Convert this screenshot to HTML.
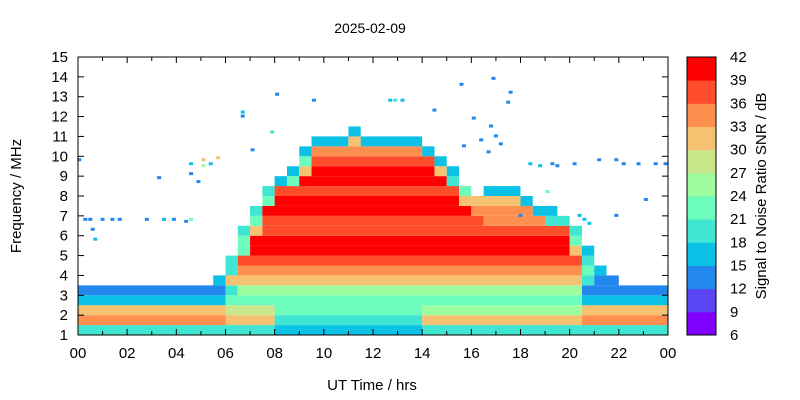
<!DOCTYPE html>
<html><head><meta charset="utf-8"><style>
body{margin:0;background:#fff;font-family:"Liberation Sans",sans-serif}
svg{display:block}
text{font-family:"Liberation Sans",sans-serif;fill:#000}
</style></head><body>
<svg id="chart" width="800" height="400" viewBox="0 0 800 400">
<rect width="800" height="400" fill="#fff"/>
<text x="370" y="33" font-size="14" text-anchor="middle">2025-02-09</text>
<text x="372" y="390" font-size="15" text-anchor="middle">UT Time / hrs</text>
<text transform="translate(21,196) rotate(-90)" font-size="15" text-anchor="middle">Frequency / MHz</text>
<text transform="translate(766,196) rotate(-90)" font-size="15" text-anchor="middle">Signal to Noise Ratio SNR / dB</text>
<g id="cells"></g>
<g id="dots"></g>
<g id="axes"></g>
<g id="cbar"></g>
</svg>
<script>
// time bins: half-hour columns 0..47; frequency rows: 0.5 MHz from 1 MHz
// runs: [startCol, endCol, bandLevel] ; level 1 = 6-9 dB ... 12 = 39-42 dB
const rowRuns = [
 [[0,11,5],[12,15,5],[16,27,4],[28,40,5],[41,47,5]],
 [[0,11,10],[12,15,9],[16,27,5],[28,40,9],[41,47,10]],
 [[0,11,9],[12,15,8],[16,27,6],[28,40,7],[41,47,9]],
 [[0,11,4],[12,40,6],[41,47,4]],
 [[0,11,3],[12,12,5],[13,40,7],[41,47,3]],
 [[11,11,4],[12,40,9],[41,41,5],[42,43,3]],
 [[12,12,5],[13,40,10],[41,41,6],[42,42,4]],
 [[12,12,5],[13,40,11],[41,41,5]],
 [[13,13,6],[14,39,12],[40,40,9],[41,41,4]],
 [[13,13,6],[14,39,12],[40,40,6]],
 [[13,13,5],[14,14,9],[15,39,11],[40,40,5]],
 [[14,14,6],[15,32,11],[33,37,10],[38,39,5]],
 [[14,14,5],[15,31,12],[32,36,10],[37,38,4]],
 [[15,15,6],[16,30,12],[31,35,9],[36,36,4]],
 [[15,15,5],[16,30,11],[31,31,6],[33,35,4]],
 [[16,16,4],[17,17,6],[18,29,12],[30,30,5]],
 [[17,17,4],[18,18,9],[19,28,12],[29,29,9],[30,30,4]],
 [[18,18,6],[19,28,11],[29,29,4]],
 [[18,18,4],[19,27,10],[28,28,4]],
 [[19,21,4],[22,22,9],[23,27,4]],
 [[22,22,4]]
];
const dotPoints = [[0.3,6.8,13],[0.5,6.8,13],[0.6,6.3,13],[0.7,5.8,16],[1,6.8,13],[1.4,6.8,13],[1.7,6.8,13],[2.8,6.8,13],[3.5,6.8,16],[3.9,6.8,13],[4.4,6.7,13],[4.6,6.8,21],[3.3,8.9,13],[4.6,9.6,16],[4.6,9.1,13],[4.9,8.7,13],[5.1,9.8,30],[5.1,9.5,24],[5.7,9.9,31],[5.4,9.6,16],[6.7,12.2,16],[6.7,12,13],[7.1,10.3,13],[7.9,11.2,18],[8.1,13.1,13],[9.6,12.8,13],[12.7,12.8,16],[12.9,12.8,19],[13.2,12.8,16],[14.5,12.3,13],[15.6,13.6,13],[16.9,13.9,13],[17.6,13.2,13],[17.5,12.7,13],[16.1,11.9,13],[16.8,11.5,13],[17,11,13],[16.4,10.8,13],[16.7,10.2,13],[15.7,10.5,13],[17.2,10.6,13],[18.4,9.6,16],[18.8,9.5,16],[19.5,9.5,13],[19.3,9.6,13],[20.2,9.6,13],[21.2,9.8,13],[21.9,9.8,13],[22.2,9.6,13],[22.8,9.6,13],[23.5,9.6,13],[23.9,9.6,13],[19.1,8.2,21],[23.1,7.8,13],[18,7,13],[20.4,7,16],[20.6,6.8,16],[20.8,6.6,16],[21.9,7,13],[0.05,9.8,13]];
const xTickLabels = ["00","02","04","06","08","10","12","14","16","18","20","22","00"];
const yTickLabels = ["1","2","3","4","5","6","7","8","9","10","11","12","13","14","15"];
const cbarTickLabels = ["6","9","12","15","18","21","24","27","30","33","36","39","42"];
const bandColors = ["#7f00ff","#5a46f5","#2388ee","#0cc1e6","#3fe6d2","#6cfcbc","#9dfc9e","#c8e68a","#f4c270","#ff8f4f","#ff4c2a","#ff0000"];

const X0=78,X1=668,Y0=335,Y1=57;
const xs=h=>X0+(X1-X0)*h/24;
const ys=f=>Y0-(Y0-Y1)*(f-1)/14;
const band=s=>Math.max(0,Math.min(11,Math.floor((s-6)/3)));
const NS="http://www.w3.org/2000/svg";
function mk(tag,attrs,parent){const e=document.createElementNS(NS,tag);for(const k in attrs)e.setAttribute(k,attrs[k]);parent.appendChild(e);return e;}
const cells=document.getElementById('cells');
rowRuns.forEach((runs,ri)=>{
 runs.forEach(r=>{
  const f0=1+ri*0.5,f1=f0+0.5;
  const e=mk('rect',{x:xs(r[0]/2),y:ys(f1),width:xs((r[1]+1)/2)-xs(r[0]/2),height:ys(f0)-ys(f1),fill:bandColors[r[2]-1]},cells);
  
  
 });
});
const dots=document.getElementById('dots');
dotPoints.forEach(p=>{
 const e=mk('rect',{x:xs(p[0])-2,y:ys(p[1])-2,width:4,height:3,fill:bandColors[band(p[2])]},dots);
 
 
});
const ax=document.getElementById('axes');
mk('rect',{x:X0,y:Y1,width:X1-X0,height:Y0-Y1,fill:'none',stroke:'#000','stroke-width':1},ax);
for(let h=0;h<=24;h++){
 const x=xs(h),L=h%2===0?6:4;
 mk('line',{x1:x,y1:Y0,x2:x,y2:Y0-L,stroke:'#000'},ax);
 mk('line',{x1:x,y1:Y1,x2:x,y2:Y1+L,stroke:'#000'},ax);
}
xTickLabels.forEach((t,i)=>{
 const e=mk('text',{x:xs(i*2),y:Y0+23,'font-size':15,'text-anchor':'middle'},ax);e.textContent=t;
 
 
});
yTickLabels.forEach((t,i)=>{
 const y=ys(i+1);
 mk('line',{x1:X0,y1:y,x2:X0+6,y2:y,stroke:'#000'},ax);
 mk('line',{x1:X1,y1:y,x2:X1-6,y2:y,stroke:'#000'},ax);
 const e=mk('text',{x:X0-10,y:y+5,'font-size':15,'text-anchor':'end'},ax);e.textContent=t;
 
 
});
const cb=document.getElementById('cbar');
const CX=687,CW=29;
const cy=s=>Y0-(Y0-Y1)*(s-6)/36;
bandColors.forEach((c,i)=>{
 const e=mk('rect',{x:CX,y:cy(6+3*(i+1)),width:CW,height:cy(6+3*i)-cy(6+3*(i+1))+0.5,fill:c},cb);
 
 
});
mk('rect',{x:CX,y:Y1,width:CW,height:Y0-Y1,fill:'none',stroke:'#000'},cb);
cbarTickLabels.forEach((t,i)=>{
 const e=mk('text',{x:CX+CW+14,y:cy(6+3*i)+5,'font-size':15},cb);e.textContent=t;
 
 
});
</script>
</body></html>
